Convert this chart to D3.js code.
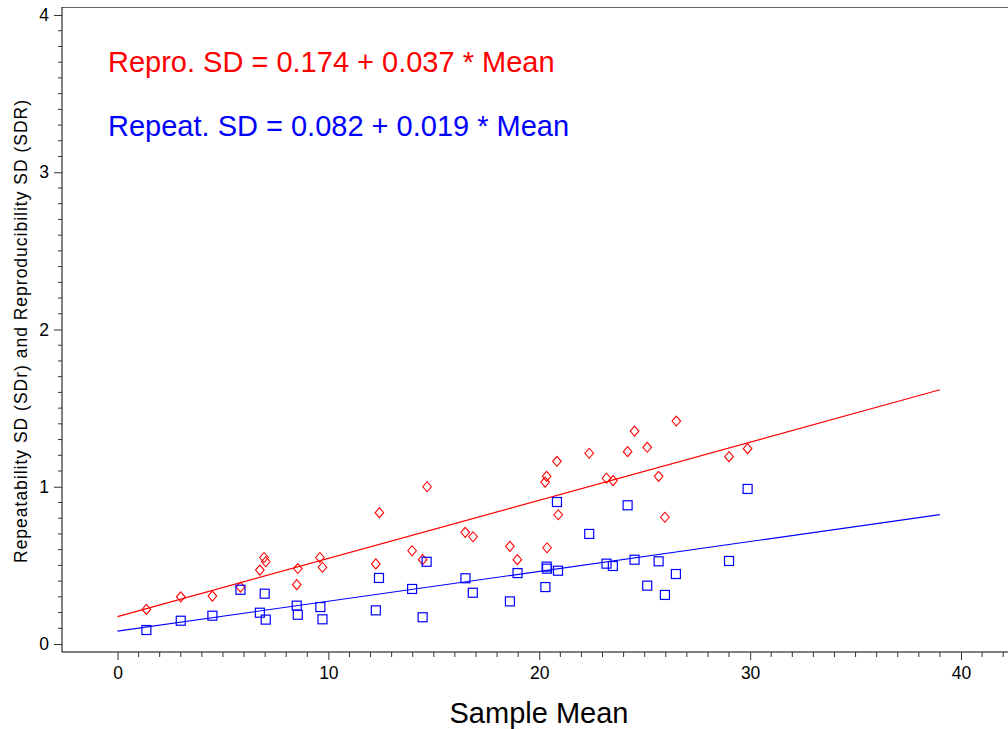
<!DOCTYPE html>
<html><head><meta charset="utf-8">
<script src="https://cdn.jsdelivr.net/npm/d3@7"></script>
<style>body{margin:0;background:#fff}svg{display:block}text{font-family:"Liberation Sans",Arial,sans-serif}</style>
</head><body><svg id="c" width="1008" height="729"></svg>
<script>
const sampleMean = [1.37,3.0,4.5,5.83,6.75,6.95,7.03,8.55,8.5,9.6,9.72,
  12.25,12.42,13.97,14.47,14.68,16.49,16.86,18.61,18.96,20.28,20.35,20.37,20.84,20.9,22.37,
  23.19,23.5,24.19,24.52,25.12,25.66,25.96,26.5,29.0,29.88];
const reproSD = [0.22,0.30,0.305,0.362,0.47,0.55,0.523,0.48,0.377,0.55,0.488,
  0.509,0.835,0.593,0.536,1.0,0.71,0.682,0.621,0.536,1.03,1.066,0.612,1.162,0.822,1.213,
  1.054,1.039,1.223,1.354,1.251,1.066,0.806,1.418,1.191,1.242];
const repeatMean = [1.37,3.0,4.5,5.83,6.75,6.98,7.03,8.5,8.55,9.62,9.72,
  12.25,12.4,13.97,14.47,14.66,16.5,16.85,18.61,18.97,20.29,20.35,20.37,20.84,20.89,22.37,
  23.19,23.49,24.19,24.52,25.12,25.66,25.96,26.48,29.0,29.88];
const repeatSD = [0.089,0.148,0.18,0.345,0.199,0.32,0.155,0.244,0.186,0.235,0.157,
  0.214,0.42,0.35,0.17,0.523,0.418,0.326,0.271,0.451,0.362,0.492,0.479,0.903,0.466,0.70,
  0.511,0.496,0.882,0.536,0.371,0.526,0.312,0.445,0.528,0.986];
const reproFit = {a:0.174, b:0.037};
const repeatFit = {a:0.082, b:0.019};
const fitRange = [0, 39];
const xTicks = [0,10,20,30,40];
const yTicks = [0,1,2,3,4];
const labels = {
  x: "Sample Mean",
  y: "Repeatability SD (SDr) and Reproducibility SD (SDR)",
  repro: "Repro. SD = 0.174 + 0.037 * Mean",
  repeat: "Repeat. SD = 0.082 + 0.019 * Mean"
};

const svg = d3.select("#c");
const L=62, R=1008, T=7, B=652;
const x = d3.scaleLinear().domain([0,40]).range([117.5, 961]);
const y = d3.scaleLinear().domain([0,4]).range([644, 15]);

// frame top line
svg.append("line").attr("x1",L).attr("x2",R).attr("y1",T+0.5).attr("y2",T+0.5).attr("stroke","#666").attr("stroke-width",1);

// x axis
const xMinor = d3.range(0,43,1);
const gx = svg.append("g").attr("transform",`translate(0,${B})`);
gx.append("line").attr("x1",L).attr("x2",R).attr("stroke","#000");
gx.selectAll(".mn").data(xMinor.filter(v=>v%10)).join("line")
  .attr("x1",d=>x(d)).attr("x2",d=>x(d)).attr("y1",0).attr("y2",5).attr("stroke","#333");
gx.call(g=>{
  const ax = d3.axisBottom(x).tickValues(xTicks).tickSize(8).tickPadding(7).tickFormat(d3.format("d"));
  const sub = g.append("g").call(ax);
  sub.select(".domain").remove();
  sub.selectAll("line").attr("stroke","#333");
  sub.selectAll("text").attr("font-size",17.5).attr("fill","#000").attr("font-family","Liberation Sans, Arial");
});

// y axis
const gy = svg.append("g").attr("transform",`translate(${L},0)`);
gy.append("line").attr("y1",T).attr("y2",B).attr("stroke","#000");
const yMinor = d3.range(0,41).map(v=>v/10).filter((v,i)=>i%10);
gy.selectAll(".mn").data(yMinor).join("line")
  .attr("y1",d=>y(d)).attr("y2",d=>y(d)).attr("x1",0).attr("x2",-4).attr("stroke","#333");
gy.call(g=>{
  const ay = d3.axisLeft(y).tickValues(yTicks).tickSize(8).tickPadding(5).tickFormat(d3.format("d"));
  const sub = g.append("g").call(ay);
  sub.select(".domain").remove();
  sub.selectAll("line").attr("stroke","#333");
  sub.selectAll("text").attr("font-size",17.5).attr("fill","#000").attr("font-family","Liberation Sans, Arial");
});

// fit lines
const line = d3.line().x(d=>x(d[0])).y(d=>y(d[1]));
svg.append("path").datum(fitRange.map(v=>[v, reproFit.a+reproFit.b*v]))
  .attr("d",line).attr("stroke","#ff0000").attr("stroke-width",1.2).attr("fill","none");
svg.append("path").datum(fitRange.map(v=>[v, repeatFit.a+repeatFit.b*v]))
  .attr("d",line).attr("stroke","#0000ff").attr("stroke-width",1.2).attr("fill","none");

// markers
const diamond = "M0,-5 L4.3,0 L0,5 L-4.3,0 Z";
svg.append("g").selectAll("path").data(sampleMean.map((m,i)=>[m,reproSD[i]])).join("path")
  .attr("transform",d=>`translate(${x(d[0])},${y(d[1])})`).attr("d",diamond)
  .attr("fill","none").attr("stroke","#ff0000").attr("stroke-width",1.1);
svg.append("g").selectAll("rect").data(repeatMean.map((m,i)=>[m,repeatSD[i]])).join("rect")
  .attr("x",d=>x(d[0])-4.5).attr("y",d=>y(d[1])-4.5).attr("width",9).attr("height",9)
  .attr("fill","none").attr("stroke","#0000ff").attr("stroke-width",1.2);

// annotations
svg.append("text").attr("x",108).attr("y",72).attr("font-size",29).attr("fill","#ff0000").text(labels.repro);
svg.append("text").attr("x",108).attr("y",136).attr("font-size",29).attr("fill","#0000ff").text(labels.repeat);

// axis titles
svg.append("text").attr("x",539).attr("y",723).attr("text-anchor","middle").attr("font-size",29).attr("fill","#000").text(labels.x);
svg.append("text").attr("transform","translate(27,331.5) rotate(-90)").attr("text-anchor","middle")
  .attr("font-size",17.5).attr("fill","#000").attr("textLength",463).attr("lengthAdjust","spacing").text(labels.y);
</script></body></html>
